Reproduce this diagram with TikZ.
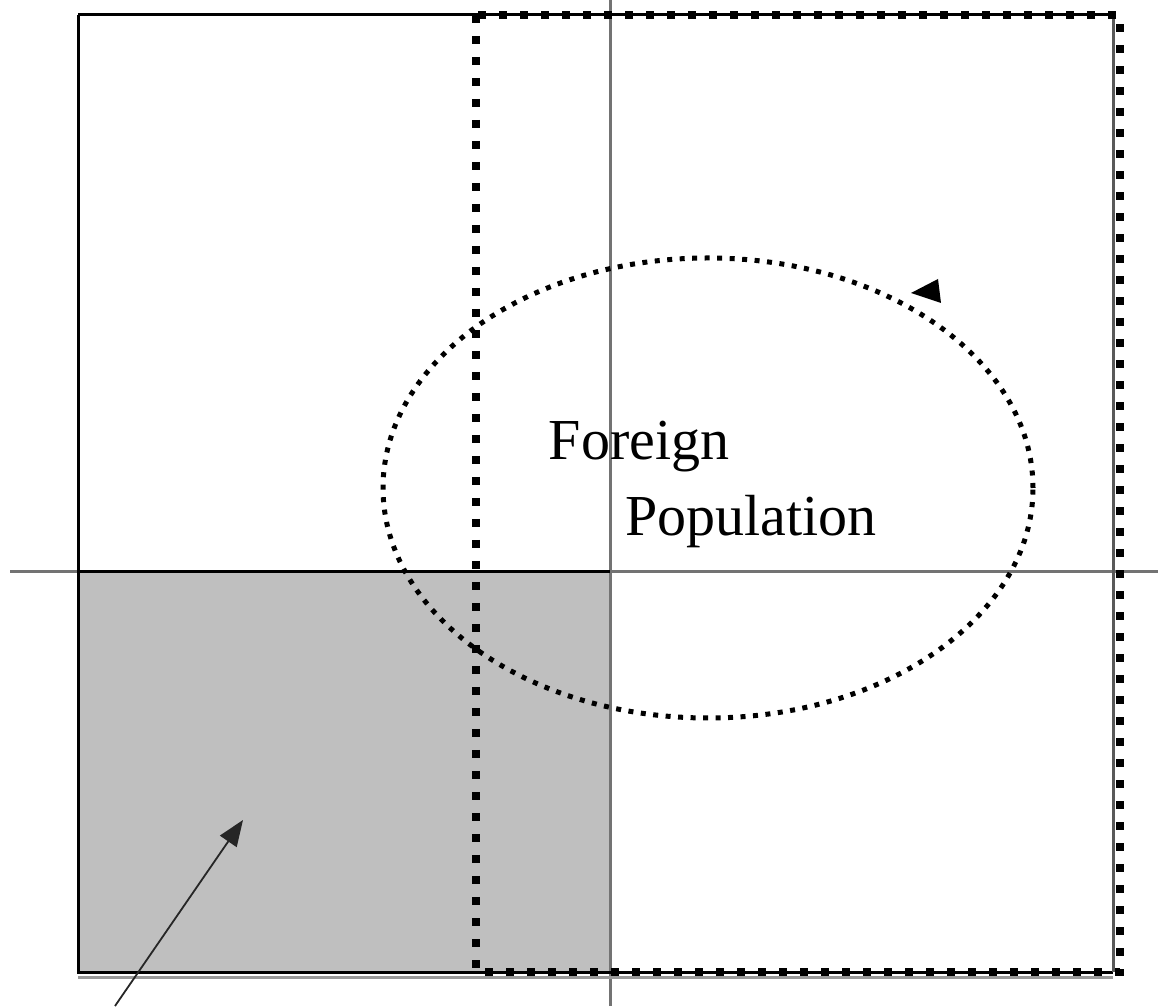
\documentclass[tikz,border=0pt]{standalone}
\usepackage{fontspec}
\setmainfont{Liberation Serif}
\usetikzlibrary{arrows.meta}

\begin{document}
\begin{tikzpicture}[
  x=1pt,y=1pt,
  axis/.style={draw=black!55,line width=3pt},
  frame/.style={draw=black,line width=3pt},
  dotbox/.style={draw=black,line width=8pt,dash pattern=on 8pt off 13pt},
  orbit/.style={draw=black,line width=5pt,dash pattern=on 5pt off 7.5pt,line cap=butt},
  lbl/.style={font=\fontsize{58}{64}\selectfont,inner sep=0pt},
  pointer/.style={-{Triangle[length=26pt,width=20pt]},line width=1.8pt,draw=black!85}
]
\useasboundingbox (0,0) rectangle (1158,1006);

% shaded quadrant
\fill[black!25] (78,34) rectangle (610,434);

% axes
\draw[axis] (10,434) -- (1158,434);
\draw[axis] (610,0) -- (610,1006);
\draw[frame] (78,434) -- (610,434);

% outer square
\draw[frame] (78,991) -- (1113,991);
\draw[frame] (78,991) -- (78,34) -- (1113,34);
\draw[frame,draw=black!65] (1113,991) -- (1113,34);
\draw[draw=black!40,line width=3pt] (78,29) -- (1113,29);

% dotted rectangle
\draw[dotbox] (476,991) rectangle (1120,34);

% ellipse and its arrowhead
\draw[orbit] (708,518) ellipse [x radius=325, y radius=230];
\fill[black] (911,713) -- (938,727) -- (941,703) -- cycle;

% labels
\node[lbl] (foreign) at (639,559) {Foreign};
\node[lbl] (population) at (751,484) {Population};

% pointer into shaded area
\coordinate (tail) at (115,0);
\coordinate (target) at (243,186);
\draw[pointer] (tail) -- (target);
\end{tikzpicture}
\end{document}
